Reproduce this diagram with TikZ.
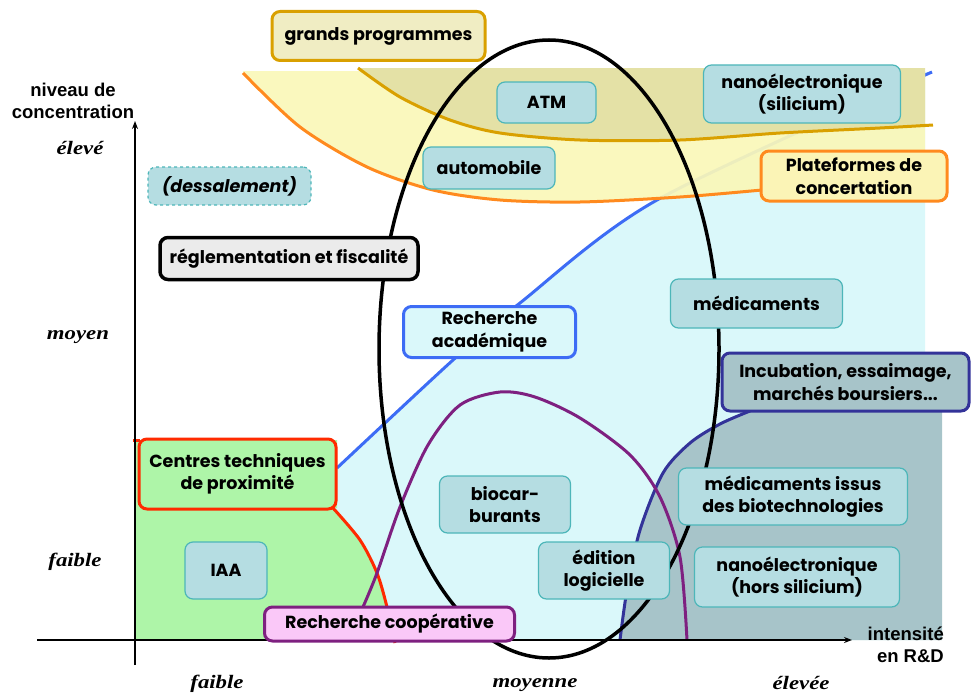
\documentclass[tikz,border=0pt]{standalone}
\usepackage{fontspec}
\setmainfont{Poppins}
\newfontfamily\axisfont[FakeStretch=1.2]{Liberation Serif}
\newfontfamily\labfont{Liberation Sans}
\usetikzlibrary{arrows.meta}
\definecolor{yel}{HTML}{FAF7B9}
\definecolor{oli}{HTML}{E4E1A6}
\definecolor{cya}{HTML}{DAF8FA}
\definecolor{gre}{HTML}{AEF5A8}
\definecolor{gry}{HTML}{A7C4C9}
\definecolor{boxfill}{HTML}{B5DDE2}
\definecolor{boxline}{HTML}{4DB6B9}
\definecolor{gold}{HTML}{D9A000}
\definecolor{orng}{HTML}{FF8A1E}
\definecolor{bleu}{HTML}{3D6CF5}
\definecolor{navyb}{HTML}{333399}
\definecolor{purp}{HTML}{7E2080}
\definecolor{pinkfill}{HTML}{FAC8F8}
\definecolor{gpfill}{HTML}{F0EDC3}
\definecolor{platfill}{HTML}{FBF4B6}
\definecolor{regfill}{HTML}{EBEBEB}
\definecolor{redl}{HTML}{FF2A00}
\tikzset{
  tbox/.style={draw=boxline, fill=boxfill, line width=1.2, rounded corners=8pt, align=center, inner sep=0pt, font=\fontsize{17.5}{22.5}\selectfont\bfseries},
  sbox/.style={tbox, line width=3},
  axlab/.style={font=\axisfont\fontsize{19}{22}\selectfont\bfseries\itshape},
  axtitle/.style={font=\labfont\fontsize{18.5}{22}\selectfont\bfseries, align=center, inner sep=0pt},
  curve/.style={line width=3}
}
\begin{document}
\begin{tikzpicture}[x=1pt,y=-1pt]
\useasboundingbox (0,0) rectangle (971,693);
% fills
\fill[cya] plot[smooth] coordinates {(337,468) (453,360) (520,303) (657,200) (930,72)} -- (925,72) -- (925,640) -- (330,640) -- (330,468) -- cycle;
\fill[gre] (135,440) -- (337,440) -- (337,508) -- plot[smooth] coordinates {(333,508) (360,540) (377,573) (387,607) (395,643)} -- (395,640) -- (135,640) -- cycle;
\fill[gry] plot[smooth] coordinates {(620,640) (627,590) (640,530) (663,473) (690,443) (720,424) (750,411)} -- (942,411) -- (942,640) -- cycle;
\draw[bleu, curve] plot[smooth] coordinates {(337,468) (453,360) (520,303) (657,200) (932,72)};
\fill[yel, opacity=0.93] (243,71) -- (925,71) -- (925,200) -- (760,200) -- plot[smooth] coordinates {(760,190) (680,197) (580,202) (500,200) (433,190) (367,167) (300,127) (243,73)} -- cycle;
\fill[oli] (358,68) -- (925,68) -- (925,128) -- plot[smooth] coordinates {(925,126) (880,128) (780,133) (680,140) (580,140) (500,133) (450,120) (400,97) (358,68)} -- cycle;
% boundary curves
\draw[orng, curve] plot[smooth] coordinates {(243,73) (300,127) (367,167) (433,190) (500,200) (580,202) (680,197) (762,190)};
\draw[gold, curve] plot[smooth] coordinates {(358,68) (400,97) (450,120) (500,133) (580,140) (680,140) (780,133) (880,128) (933,125)};
\draw[redl, curve] (133,440) -- (140,440);
\draw[redl, curve] plot[smooth] coordinates {(333,508) (360,540) (377,573) (387,607) (395,643)};
\draw[navyb, curve] plot[smooth] coordinates {(620,640) (627,590) (640,530) (663,473) (690,443) (720,424) (750,411)};
\draw[purp, curve] plot[smooth] coordinates {(363,607) (377,573) (400,507) (428,445) (460,405) (500,392) (535,397) (580,418) (630,455) (660,497) (680,557) (687,640)};
% ellipse
\draw[line width=3.5] (549,349) ellipse [x radius=170, y radius=309];
% axes
\coordinate (yb) at (135,665); \coordinate (yt) at (135,121);
\coordinate (xl) at (37,640); \coordinate (xr) at (852,640);
\draw[line width=1.3, -{Stealth[length=8pt,width=6pt]}] (yb) -- (yt);
\draw[line width=1.3, -{Stealth[length=8pt,width=6pt]}] (xl) -- (xr);
% axis labels
\node[axtitle] (ytitle) at (73,101) {niveau de\\concentration};
\node[axtitle, align=right, anchor=east] (xtitle) at (944,645) {intensité\\en R\&D};
\node[axlab] (yh) at (80,148) {élevé};
\node[axlab] (ym) at (78,337) {moyen};
\node[axlab] (yl) at (75,562) {faible};
\node[axlab] (xlo) at (217,684) {faible};
\node[axlab] (xmo) at (535,685) {moyenne};
\node[axlab] (xhi) at (801,683) {élevée};
% boxes
\node[sbox, draw=gold, fill=gpfill, minimum width=213, minimum height=49] (gp) at (378.5,36) {grands programmes};
\node[tbox, minimum width=99, minimum height=41] (atm) at (546.5,102.5) {ATM};
\node[tbox, minimum width=197, minimum height=58] (nsi) at (802,94) {nanoélectronique\\(silicium)};
\node[tbox, minimum width=132, minimum height=42] (auto) at (489,168) {automobile};
\node[sbox, draw=orng, fill=platfill, minimum width=186, minimum height=50] (plat) at (854,176) {Plateformes de\\concertation};
\node[tbox, dashed, fill=boxfill, minimum width=163, minimum height=38, font=\fontsize{17.5}{22}\selectfont\bfseries\itshape] (dess) at (229.5,186) {(dessalement)};
\node[sbox, draw=black, line width=3.5, fill=regfill, minimum width=258, minimum height=42] (regl) at (289,258.5) {réglementation et fiscalité};
\node[sbox, draw=bleu, fill=cya, minimum width=172, minimum height=51] (racad) at (489.5,332) {Recherche\\académique};
\node[tbox, minimum width=172, minimum height=49] (med) at (756.5,303.5) {médicaments};
\node[sbox, draw=navyb, fill=gry, minimum width=247, minimum height=58] (incub) at (845.5,382) {Incubation, essaimage,\\marchés boursiers...};
\node[sbox, draw=redl, fill=gre, minimum width=197, minimum height=70] (ctp) at (237.5,474) {Centres techniques\\de proximité};
\node[tbox, minimum width=82, minimum height=57] (iaa) at (226,570.5) {IAA};
\node[tbox, minimum width=131, minimum height=57] (bio) at (505,504.5) {biocar-\\burants};
\node[tbox, minimum width=131, minimum height=57] (edit) at (604,570.5) {édition\\logicielle};
\node[tbox, minimum width=229, minimum height=57] (medb) at (793,496.5) {médicaments issus\\des biotechnologies};
\node[tbox, minimum width=205, minimum height=60] (nhs) at (797,577) {nanoélectronique\\(hors silicium)};
\node[sbox, draw=purp, fill=pinkfill, minimum width=250, minimum height=34] (rcoop) at (389.5,624) {Recherche coopérative};
\end{tikzpicture}
\end{document}
